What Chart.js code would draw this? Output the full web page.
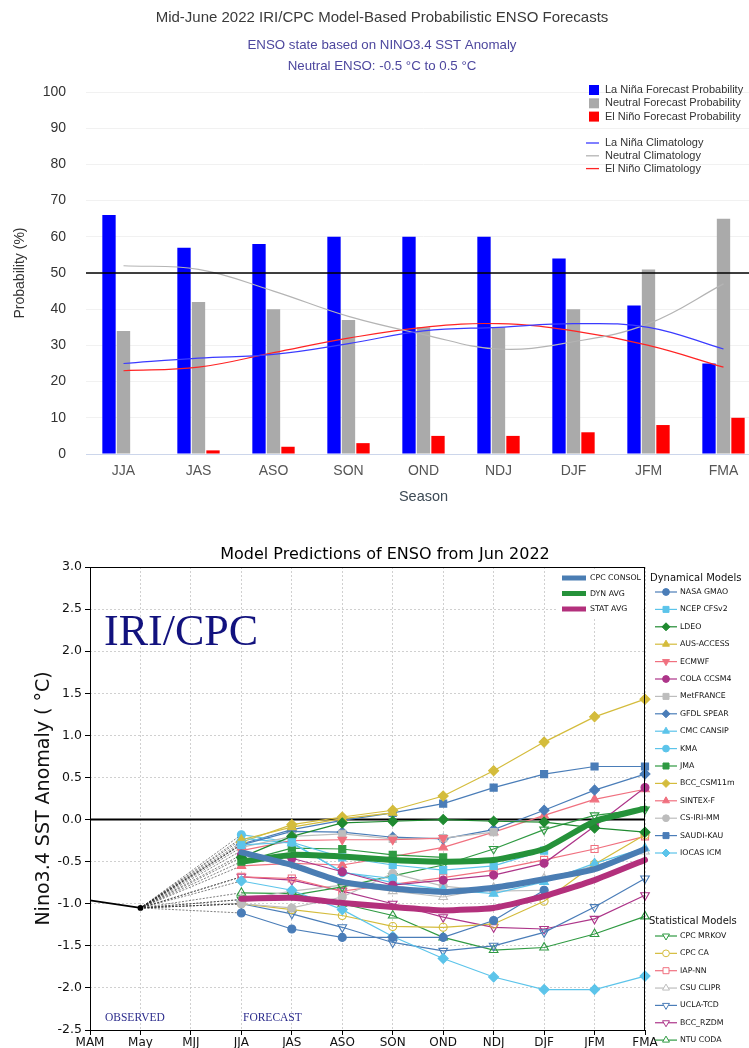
<!DOCTYPE html>
<html><head><meta charset="utf-8">
<script src="https://cdn.jsdelivr.net/npm/chart.js@4.4.1/dist/chart.umd.min.js"></script>
<style>
html,body{margin:0;padding:0;background:#fff;overflow:hidden;width:749px;height:1048px;}
#top{position:absolute;left:0;top:0;width:765px;height:520px;}
#bot{position:absolute;left:0;top:520px;width:749px;height:528px;}
canvas{display:block;}
</style></head><body>
<div id="top"><canvas id="c1" width="765" height="520"></canvas></div>
<div id="bot"><canvas id="c2" width="749" height="528"></canvas></div>
<script>
// ---------- TOP CHART DATA ----------
const seasons = ['JJA','JAS','ASO','SON','OND','NDJ','DJF','JFM','FMA'];
const laNinaProb  = [66, 57, 58, 60, 60, 60, 54, 41, 25];
const neutralProb = [34, 42, 40, 37, 35, 35, 40, 51, 65];
const elNinoProb  = [0, 1, 2, 3, 5, 5, 6, 8, 10];
const laNinaClim  = [25, 26.5, 27.5, 30.5, 34, 35, 36, 35, 29];
const neutralClim = [52, 51, 45, 38, 33, 29, 31, 36, 47];
const elNinoClim  = [23, 24, 28, 32, 35, 36, 34, 30, 24];
const neutralThreshold = 50;

// ---------- BOTTOM CHART DATA ----------
const plumeSeasons = ['MAM','May','MJJ','JJA','JAS','ASO','SON','OND','NDJ','DJF','JFM','FMA'];
const observedSST = [-0.96, -1.05];
// forecasts JJA..FMA
const CPC_CONSOL = [-0.39, -0.54, -0.74, -0.82, -0.86, -0.81, -0.71, -0.59, -0.35];
const DYN_AVG    = [-0.50, -0.42, -0.44, -0.48, -0.50, -0.48, -0.35, -0.02, 0.13];
const STAT_AVG   = [-0.94, -0.93, -0.99, -1.04, -1.08, -1.05, -0.91, -0.72, -0.48];

const NASA_GMAO  = [-1.11, -1.30, -1.40, -1.40, -1.40, -1.20, -0.84, null, null];
const NCEP_CFSv2 = [-0.30, -0.27, -0.45, -0.54, -0.60, -0.55, -0.37, null, null];
const LDEO       = [-0.45, -0.20, -0.04, -0.02, 0.00, -0.02, -0.03, -0.10, -0.15];
const AUS_ACCESS = [-0.24, -0.09, 0.01, 0.08, null, null, null, null, null];
const ECMWF      = [-0.37, -0.25, -0.24, -0.24, -0.22, null, null, null, null];
const COLA_CCSM4 = [-0.42, -0.46, -0.62, -0.78, -0.72, -0.66, -0.52, -0.08, 0.38];
const MetFRANCE  = [-0.33, -0.20, -0.17, -0.23, -0.22, -0.15, null, null, null];
const GFDL_SPEAR = [-0.30, -0.14, -0.15, -0.21, -0.23, -0.12, 0.11, 0.35, 0.54];
const CMC_CANSIP = [-0.22, -0.28, -0.62, -0.75, -0.83, -0.88, -0.74, -0.52, -0.34];
const KMA        = [-0.18, -0.27, -0.63, -0.70, null, null, null, null, null];
const JMA        = [-0.50, -0.34, -0.35, -0.42, -0.45, null, null, null, null];
const BCC_CSM11m = [-0.27, -0.06, 0.03, 0.11, 0.28, 0.58, 0.92, 1.22, 1.43];
const SINTEX_F   = [-0.55, -0.52, -0.54, -0.44, -0.33, -0.15, 0.05, 0.24, 0.36];
const CS_IRI_MM  = [-1.00, -1.05, -0.92, -0.64, -0.79, -0.85, -0.84, null, null];
const SAUDI_KAU  = [-0.29, -0.12, -0.01, 0.08, 0.19, 0.38, 0.54, 0.63, 0.63];
const IOCAS_ICM  = [-0.73, -0.84, -1.07, -1.39, -1.65, -1.87, -2.02, -2.02, -1.86];

const CPC_MRKOV  = [-0.95, -0.90, -0.80, -0.67, -0.54, -0.35, -0.12, 0.05, 0.12];
const CPC_CA     = [-1.00, -1.07, -1.14, -1.27, -1.28, -1.24, -0.97, -0.53, -0.18];
const IAP_NN     = [-0.68, -0.70, -0.85, -0.77, -0.69, -0.60, -0.48, -0.35, -0.20];
const CSU_CLIPR  = [-0.95, -0.85, -0.78, -0.85, -0.92, -0.81, -0.70, -0.55, -0.38];
const UCLA_TCD   = [-1.00, -1.12, -1.28, -1.46, -1.56, -1.50, -1.34, -1.04, -0.70];
const BCC_RZDM   = [-0.68, -0.72, -0.85, -1.00, -1.16, -1.28, -1.30, -1.18, -0.90];
const NTU_CODA   = [-0.87, -0.88, -1.00, -1.14, -1.40, -1.55, -1.52, -1.36, -1.15];

// ---------- styles ----------
const C_STEEL='#4a7db8', C_CYAN='#5cc4ea', C_DKGREEN='#1f8a30', C_GOLD='#d4bc3c', C_PINK='#f0707f',
      C_MAG='#ad3589', C_GRAY='#bdbdbd', C_GREEN='#2f9a42';
const dynamicalModels = [
  {label:'NASA GMAO', data:NASA_GMAO, color:C_STEEL, marker:'circle'},
  {label:'NCEP CFSv2', data:NCEP_CFSv2, color:C_CYAN, marker:'square'},
  {label:'LDEO', data:LDEO, color:C_DKGREEN, marker:'diamond'},
  {label:'AUS-ACCESS', data:AUS_ACCESS, color:C_GOLD, marker:'tri'},
  {label:'ECMWF', data:ECMWF, color:C_PINK, marker:'tridown'},
  {label:'COLA CCSM4', data:COLA_CCSM4, color:C_MAG, marker:'circle'},
  {label:'MetFRANCE', data:MetFRANCE, color:C_GRAY, marker:'square'},
  {label:'GFDL SPEAR', data:GFDL_SPEAR, color:C_STEEL, marker:'diamond'},
  {label:'CMC CANSIP', data:CMC_CANSIP, color:C_CYAN, marker:'tri'},
  {label:'KMA', data:KMA, color:C_CYAN, marker:'circle'},
  {label:'JMA', data:JMA, color:C_GREEN, marker:'square'},
  {label:'BCC_CSM11m', data:BCC_CSM11m, color:C_GOLD, marker:'diamond'},
  {label:'SINTEX-F', data:SINTEX_F, color:C_PINK, marker:'tri'},
  {label:'CS-IRI-MM', data:CS_IRI_MM, color:C_GRAY, marker:'circle'},
  {label:'SAUDI-KAU', data:SAUDI_KAU, color:C_STEEL, marker:'square'},
  {label:'IOCAS ICM', data:IOCAS_ICM, color:C_CYAN, marker:'diamond'}
];
const statisticalModels = [
  {label:'CPC MRKOV', data:CPC_MRKOV, color:C_GREEN, marker:'tridown'},
  {label:'CPC CA', data:CPC_CA, color:C_GOLD, marker:'circle'},
  {label:'IAP-NN', data:IAP_NN, color:C_PINK, marker:'square'},
  {label:'CSU CLIPR', data:CSU_CLIPR, color:C_GRAY, marker:'tri'},
  {label:'UCLA-TCD', data:UCLA_TCD, color:C_STEEL, marker:'tridown'},
  {label:'BCC_RZDM', data:BCC_RZDM, color:C_MAG, marker:'tridown'},
  {label:'NTU CODA', data:NTU_CODA, color:C_GREEN, marker:'tri'}
];
const averages = [
  {label:'CPC CONSOL', data:CPC_CONSOL, color:'#4a7db3'},
  {label:'DYN AVG', data:DYN_AVG, color:'#25923a'},
  {label:'STAT AVG', data:STAT_AVG, color:'#b3307c'}
];

// ---------- TOP CHART ----------
const SANS = "'Liberation Sans', Arial, sans-serif";
const topPlugin = {
  id:'topDeco',
  afterDatasetsDraw(chart){
    const {ctx, chartArea:a, scales:{y}} = chart;
    const yy = y.getPixelForValue(neutralThreshold);
    ctx.save(); ctx.strokeStyle='#000'; ctx.lineWidth=1.5;
    ctx.beginPath(); ctx.moveTo(a.left, yy); ctx.lineTo(a.right, yy); ctx.stroke(); ctx.restore();
  },
  afterDraw(chart){
    const ctx = chart.ctx;
    ctx.save();
    ctx.textAlign='center'; ctx.textBaseline='middle';
    ctx.fillStyle='#3a3a3a'; ctx.font="15px "+SANS;
    ctx.fillText('Mid-June 2022 IRI/CPC Model-Based Probabilistic ENSO Forecasts', 382, 18);
    ctx.fillStyle='#4d479e'; ctx.font="13.3px "+SANS;
    ctx.fillText('ENSO state based on NINO3.4 SST Anomaly', 382, 45);
    ctx.fillText('Neutral ENSO: -0.5 °C to 0.5 °C', 382, 66);
    // legend
    ctx.textAlign='left'; ctx.font="11px "+SANS; ctx.fillStyle='#333';
    const ds = chart.data.datasets;
    const bars = ds.filter(d=>d.type==='bar');
    const lines = ds.filter(d=>d.type==='line');
    bars.forEach((d,i)=>{
      const yy = 90 + i*13.3;
      ctx.fillStyle=d.backgroundColor; ctx.fillRect(589, yy-5, 10, 10);
      ctx.fillStyle='#333'; ctx.fillText(d.label, 605, yy);
    });
    lines.forEach((d,i)=>{
      const yy = 143 + i*12.8;
      ctx.strokeStyle=d.borderColor; ctx.lineWidth=1.3;
      ctx.beginPath(); ctx.moveTo(586, yy); ctx.lineTo(599, yy); ctx.stroke();
      ctx.fillStyle='#333'; ctx.fillText(d.label, 605, yy);
    });
    ctx.restore();
  }
};

new Chart(document.getElementById('c1'), {
  type:'bar',
  data:{
    labels: seasons,
    datasets:[
      {type:'line', label:'La Niña Climatology', data:laNinaClim, borderColor:'#3b3bff', borderWidth:1.2, pointRadius:0, tension:0.4},
      {type:'line', label:'Neutral Climatology', data:neutralClim, borderColor:'#b4b4b4', borderWidth:1.2, pointRadius:0, tension:0.4},
      {type:'line', label:'El Niño Climatology', data:elNinoClim, borderColor:'#ff2424', borderWidth:1.2, pointRadius:0, tension:0.4},
      {type:'bar', label:'La Niña Forecast Probability', data:laNinaProb, backgroundColor:'#0000ff', categoryPercentage:0.58, barPercentage:0.92},
      {type:'bar', label:'Neutral Forecast Probability', data:neutralProb, backgroundColor:'#aaaaaa', categoryPercentage:0.58, barPercentage:0.92},
      {type:'bar', label:'El Niño Forecast Probability', data:elNinoProb, backgroundColor:'#ff0000', categoryPercentage:0.58, barPercentage:0.92}
    ]
  },
  options:{
    responsive:false, animation:false, events:[],
    layout:{padding:{top:92, right:4, left:0, bottom:0}},
    plugins:{legend:{display:false}, tooltip:{enabled:false}},
    scales:{
      x:{
        grid:{display:false, drawTicks:false},
        border:{display:true, color:'#ccd6eb', width:1},
        ticks:{font:{family:SANS, size:14}, color:'#555', padding:9},
        title:{display:true, text:'Season', font:{family:SANS, size:14.5}, color:'#3d4a55', padding:{top:0, bottom:14}},
        afterFit(s){ s.height = 66; }
      },
      y:{
        min:0, max:100,
        ticks:{stepSize:10, padding:20, font:{family:SANS, size:14}, color:'#333'},
        grid:{color:'#f1f1f1', drawTicks:false},
        border:{display:false},
        title:{display:true, text:'Probability (%)', font:{family:SANS, size:14}, color:'#333', padding:{top:12, bottom:0}},
        afterFit(s){ s.width = 86; }
      }
    }
  },
  plugins:[topPlugin]
});

// ---------- BOTTOM CHART ----------
const DV = "'DejaVu Sans', sans-serif";
function markerStyle(m){
  switch(m){
    case 'circle': return {ps:'circle', rot:0, r:4};
    case 'square': return {ps:'rect', rot:0, r:5};
    case 'diamond': return {ps:'rectRot', rot:0, r:5};
    case 'tri': return {ps:'triangle', rot:0, r:5};
    case 'tridown': return {ps:'triangle', rot:180, r:5};
  }
}
function modelDataset(m, hollow){
  const s = markerStyle(m.marker);
  return {
    type:'line', label:m.label, data:[null,null,null].concat(m.data),
    borderColor:m.color, borderWidth:1.2, tension:0,
    pointStyle:s.ps, pointRotation:s.rot, pointRadius:s.r,
    pointBackgroundColor: hollow ? 'rgba(255,255,255,0)' : m.color,
    pointBorderColor:m.color, pointBorderWidth:1.1,
    connect:true
  };
}
const bottomDatasets = [];
averages.forEach(a=>bottomDatasets.push({type:'line', label:a.label, data:[null,null,null].concat(a.data),
  borderColor:a.color, borderWidth:6, pointRadius:0, tension:0.15, borderCapStyle:'round', borderJoinStyle:'round'}));
bottomDatasets.push({type:'line', label:'Observed', data:observedSST, borderColor:'#000', borderWidth:1.8,
  pointRadius:[0,2], pointBackgroundColor:'#000', tension:0, observed:true});
dynamicalModels.forEach(m=>bottomDatasets.push(modelDataset(m,false)));
statisticalModels.forEach(m=>bottomDatasets.push(modelDataset(m,true)));

function drawMarker(ctx, type, x, y, r, fill, stroke){
  ctx.beginPath();
  if(type==='circle'){ ctx.arc(x,y,r*0.85,0,Math.PI*2); }
  else if(type==='square'){ ctx.rect(x-r*0.75,y-r*0.75,r*1.5,r*1.5); }
  else if(type==='diamond'){ ctx.moveTo(x,y-r); ctx.lineTo(x+r,y); ctx.lineTo(x,y+r); ctx.lineTo(x-r,y); ctx.closePath(); }
  else if(type==='tri'){ ctx.moveTo(x,y-r); ctx.lineTo(x+r*0.87,y+r*0.5); ctx.lineTo(x-r*0.87,y+r*0.5); ctx.closePath(); }
  else if(type==='tridown'){ ctx.moveTo(x,y+r); ctx.lineTo(x+r*0.87,y-r*0.5); ctx.lineTo(x-r*0.87,y-r*0.5); ctx.closePath(); }
  ctx.fillStyle=fill; ctx.fill(); ctx.strokeStyle=stroke; ctx.lineWidth=1; ctx.stroke();
}

const botPlugin = {
  id:'botDeco',
  beforeDatasetsDraw(chart){
    const {ctx, chartArea:a, scales:{y}} = chart;
    const ds = chart.data.datasets;
    const obsIdx = ds.findIndex(d=>d.observed);
    const obsMeta = chart.getDatasetMeta(obsIdx);
    const p0 = obsMeta.data[1];
    ctx.save();
    const y0 = y.getPixelForValue(0);
    ctx.strokeStyle='#000'; ctx.lineWidth=2;
    ctx.beginPath(); ctx.moveTo(a.left, y0); ctx.lineTo(a.right, y0); ctx.stroke();
    ctx.strokeStyle='rgba(40,40,40,0.75)'; ctx.lineWidth=0.8; ctx.setLineDash([2,1.5]);
    ds.forEach((d,i)=>{
      if(!d.connect) return;
      const meta = chart.getDatasetMeta(i);
      const first = d.data.findIndex(v=>v!==null);
      const p1 = meta.data[first];
      ctx.beginPath(); ctx.moveTo(p0.x, p0.y); ctx.lineTo(p1.x, p1.y); ctx.stroke();
    });
    ctx.restore();
  },
  afterDraw(chart){
    const {ctx, chartArea:a} = chart;
    ctx.save();
    ctx.strokeStyle='#000'; ctx.lineWidth=1;
    ctx.strokeRect(a.left+0.5, a.top+0.5, a.right-a.left-1, a.bottom-a.top);
    ctx.fillStyle='#000'; ctx.textAlign='center'; ctx.textBaseline='middle';
    ctx.font="16px "+DV;
    ctx.fillText('Model Predictions of ENSO from Jun 2022', 385, 35);
    ctx.textAlign='left'; ctx.textBaseline='alphabetic';
    ctx.fillStyle='#12127e'; ctx.font="44px 'Liberation Serif', serif";
    ctx.fillText('IRI/CPC', 104, 125);
    ctx.fillStyle='#2b2b8c'; ctx.font="11.5px 'Liberation Serif', serif";
    ctx.fillText('OBSERVED', 105, 501);
    ctx.fillText('FORECAST', 243, 501);
    // inner legend
    ctx.fillStyle='#fff'; ctx.fillRect(556, 50, 87, 48);
    ctx.textBaseline='middle'; ctx.font="7.8px "+DV;
    averages.forEach((av,i)=>{
      const yy = 58 + i*15.5;
      ctx.strokeStyle=av.color; ctx.lineWidth=5;
      ctx.beginPath(); ctx.moveTo(562, yy); ctx.lineTo(586, yy); ctx.stroke();
      ctx.fillStyle='#111'; ctx.fillText(av.label, 590, yy);
    });
    // right legend
    ctx.font="10px "+DV; ctx.fillStyle='#111';
    ctx.fillText('Dynamical Models', 650, 58);
    ctx.font="7.8px "+DV;
    dynamicalModels.forEach((m,i)=>{
      const yy = 72 + i*17.4;
      ctx.strokeStyle=m.color; ctx.lineWidth=1.2;
      ctx.beginPath(); ctx.moveTo(655, yy); ctx.lineTo(677, yy); ctx.stroke();
      drawMarker(ctx, m.marker, 666, yy, 4, m.color, m.color);
      ctx.fillStyle='#111'; ctx.fillText(m.label, 680, yy);
    });
    ctx.font="10px "+DV; ctx.fillStyle='#111';
    ctx.fillText('Statistical Models', 649, 401);
    ctx.font="7.8px "+DV;
    statisticalModels.forEach((m,i)=>{
      const yy = 416 + i*17.35;
      ctx.strokeStyle=m.color; ctx.lineWidth=1.2;
      ctx.beginPath(); ctx.moveTo(655, yy); ctx.lineTo(677, yy); ctx.stroke();
      drawMarker(ctx, m.marker, 666, yy, 4, '#fff', m.color);
      ctx.fillStyle='#111'; ctx.fillText(m.label, 680, yy);
    });
    ctx.restore();
  }
};

new Chart(document.getElementById('c2'), {
  type:'line',
  data:{labels:plumeSeasons, datasets:bottomDatasets},
  options:{
    responsive:false, animation:false, events:[],
    layout:{padding:{top:47, right:104, left:0, bottom:0}},
    plugins:{legend:{display:false}, tooltip:{enabled:false}},
    scales:{
      x:{
        offset:false,
        grid:{color:'#c4c4c4', lineWidth:0.8, drawTicks:true, tickLength:5, tickColor:'#000', tickWidth:1},
        border:{display:false, dash:[2,2]},
        ticks:{font:{family:DV, size:12}, color:'#111', padding:1, maxRotation:0, autoSkip:false},
        afterFit(s){ s.height = 18; }
      },
      y:{
        min:-2.5, max:3.0,
        grid:{color:'#c4c4c4', lineWidth:0.8, drawTicks:true, tickLength:5, tickColor:'#000', tickWidth:1},
        border:{display:false, dash:[2,2]},
        ticks:{stepSize:0.5, callback:v=>Number(v).toFixed(1), font:{family:DV, size:12.5}, color:'#111', padding:3},
        title:{display:true, text:'Nino3.4 SST Anomaly ( °C)', font:{family:DV, size:19}, color:'#111', padding:{top:33, bottom:0}},
        afterFit(s){ s.width = 90; }
      }
    }
  },
  plugins:[botPlugin]
});
</script>
</body></html>
